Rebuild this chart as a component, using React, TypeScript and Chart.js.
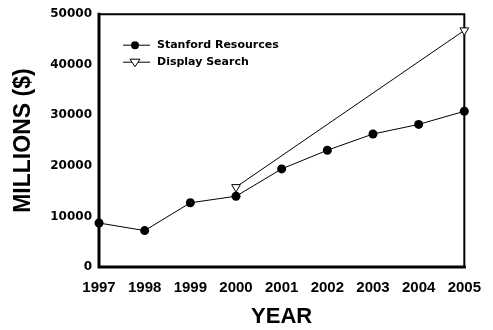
import React, { useEffect, useRef } from "react";
import { Chart, registerables } from "chart.js";

Chart.register(...registerables);

const years = ["1997", "1998", "1999", "2000", "2001", "2002", "2003", "2004", "2005"];
const stanfordResources = [8700, 7200, 12700, 14000, 19400, 23100, 26300, 28200, 30800];
const displaySearch = [null, null, null, 15800, null, null, null, null, 46800];
const seriesLabels = ["Stanford Resources", "Display Search"];
const yAxisTitle = "MILLIONS ($)";
const xAxisTitle = "YEAR";
const yMin = 0;
const yMax = 50000;
const yStep = 10000;

const boxPlugin = {
  id: "boxPlugin",
  beforeDatasetsDraw(chart: any) {
    const { ctx, chartArea } = chart;
    const { left, right, top, bottom } = chartArea;
    ctx.save();
    ctx.strokeStyle = "#000";
    ctx.lineCap = "square";
    ctx.lineWidth = 2;
    ctx.beginPath();
    ctx.moveTo(left, top);
    ctx.lineTo(right, top);
    ctx.lineTo(right, bottom);
    ctx.stroke();
    ctx.lineWidth = 3;
    ctx.beginPath();
    ctx.moveTo(left, top);
    ctx.lineTo(left, bottom);
    ctx.lineTo(right, bottom);
    ctx.stroke();
    ctx.restore();
  },
};

const legendPlugin = {
  id: "insideLegend",
  afterDraw(chart: any) {
    const { ctx, chartArea } = chart;
    const x0 = chartArea.left + 24;
    const rows = [chartArea.top + 31, chartArea.top + 48];
    ctx.save();
    chart.data.datasets.forEach((ds: any, i: number) => {
      const y = rows[i];
      ctx.strokeStyle = "#000";
      ctx.lineWidth = 1;
      ctx.beginPath();
      ctx.moveTo(x0, y);
      ctx.lineTo(x0 + 27, y);
      ctx.stroke();
      const mx = x0 + 12;
      if (ds.pointStyle === "triangle") {
        const r = 5;
        ctx.fillStyle = "#fff";
        ctx.beginPath();
        ctx.moveTo(mx - r, y - r * 0.6);
        ctx.lineTo(mx + r, y - r * 0.6);
        ctx.lineTo(mx, y + r * 0.9);
        ctx.closePath();
        ctx.fill();
        ctx.stroke();
      } else {
        ctx.fillStyle = "#000";
        ctx.beginPath();
        ctx.arc(mx, y, 4, 0, Math.PI * 2);
        ctx.fill();
      }
      ctx.fillStyle = "#000";
      ctx.font = "bold 11px 'DejaVu Sans'";
      ctx.textAlign = "left";
      ctx.textBaseline = "middle";
      ctx.fillText(ds.label, x0 + 34, y);
    });
    ctx.restore();
  },
};

export default function App() {
  const ref = useRef<HTMLCanvasElement>(null);
  useEffect(() => {
    document.body.style.margin = "0";
    const chart = new Chart(ref.current!, {
      type: "line",
      data: {
        labels: years,
        datasets: [
          {
            label: seriesLabels[0],
            data: stanfordResources,
            borderColor: "#000",
            borderWidth: 1,
            backgroundColor: "#000",
            pointStyle: "circle",
            pointRadius: 4.5,
            pointBackgroundColor: "#000",
            pointBorderColor: "#000",
            pointBorderWidth: 0,
            clip: false as any,
            tension: 0,
          },
          {
            label: seriesLabels[1],
            data: displaySearch as any,
            borderColor: "#000",
            borderWidth: 1,
            backgroundColor: "#fff",
            pointStyle: "triangle",
            rotation: 180,
            pointRadius: 5,
            pointBackgroundColor: "#fff",
            pointBorderColor: "#000",
            pointBorderWidth: 1,
            spanGaps: true,
            clip: false as any,
            tension: 0,
          },
        ],
      },
      options: {
        responsive: false,
        animation: false,
        layout: { padding: { top: 14, right: 26, left: 0, bottom: 0 } },
        plugins: {
          legend: { display: false },
          tooltip: { enabled: false },
        },
        scales: {
          x: {
            type: "category",
            offset: false,
            grid: { display: false, drawTicks: false },
            border: { display: false },
            ticks: {
              color: "#000",
              padding: 12,
              maxRotation: 0,
              autoSkip: false,
              font: { family: "Arial, 'Liberation Sans'", weight: "bold", size: 15 },
            },
            title: {
              display: true,
              text: xAxisTitle,
              color: "#000",
              font: { family: "Arial, 'Liberation Sans'", weight: "bold", size: 22, lineHeight: 1 },
              padding: { top: 0, bottom: 2 },
            },
            afterFit(scale: any) {
              scale.height = 63;
            },
          },
          y: {
            min: yMin,
            max: yMax,
            grid: { display: false, drawTicks: false },
            border: { display: false },
            ticks: {
              stepSize: yStep,
              color: "#000",
              padding: 7,
              callback: (v: any) => String(v),
              font: { family: "'DejaVu Sans'", weight: "bold", size: 12 },
            },
            title: {
              display: true,
              text: yAxisTitle,
              color: "#000",
              font: { family: "Arial, 'Liberation Sans'", weight: "bold", size: 23, lineHeight: 1 },
              padding: { top: 12, bottom: 0 },
            },
            afterFit(scale: any) {
              scale.width = 99;
            },
          },
        },
      },
      plugins: [boxPlugin, legendPlugin],
    });
    return () => chart.destroy();
  }, []);
  return (
    <div style={{ position: "absolute", left: 0, top: 0 }}>
      <canvas ref={ref} width={493} height={330} />
    </div>
  );
}
